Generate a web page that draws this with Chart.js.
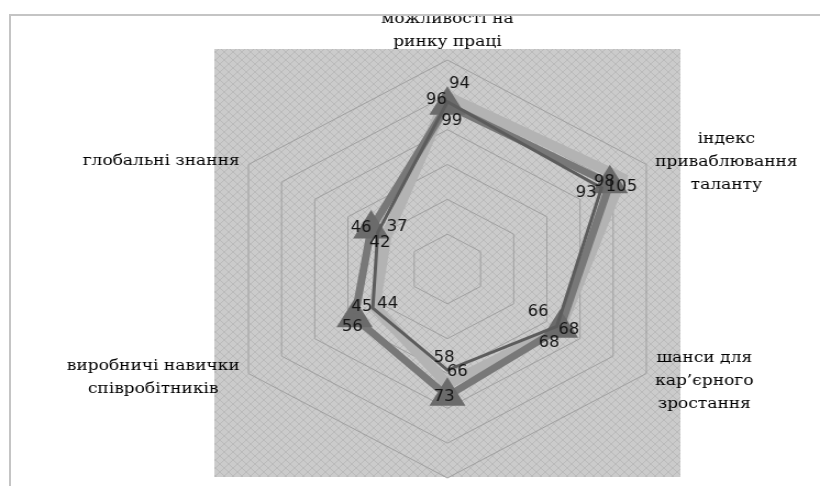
<!DOCTYPE html>
<html>
<head>
<meta charset="utf-8">
<script src="https://cdn.jsdelivr.net/npm/chart.js@4.4.1/dist/chart.umd.min.js"></script>
<style>
    html, body { margin: 0; padding: 0; background: #fff; width: 820px; height: 486px; overflow: hidden; }
    #frame { position: absolute; left: 9px; top: 14px; width: 811px; height: 472px;
             border-top: 2px solid #c4c4c4; border-left: 2px solid #c4c4c4; overflow: hidden; }
    #wrap { position: absolute; left: -11px; top: -16px; width: 746px; height: 486px;
            transform: scaleX(1.0992); transform-origin: 0 0; }
</style>
</head>
<body>
<div id="frame"><div id="wrap"><canvas id="radarChart"></canvas></div></div>
<script>
// categories (clockwise from the top); the bottom axis has no visible title
const categories = [
    ['можливості на', 'ринку праці'],
    ['індекс', 'приваблювання', 'таланту'],
    ['шанси для', 'кар’єрного', 'зростання'],
    [''],
    ['виробничі навички', 'співробітників'],
    ['глобальні знання']
];

// series values
const seriesA = [94, 98, 68, 73, 56, 46];
const seriesB = [96, 93, 66, 58, 45, 42];
const seriesC = [99, 105, 68, 66, 44, 37];

// axis range
const axisMax = 120;
const axisStep = 20;

// where each value label sits relative to its point (px)
const labelShiftA = [[11, -21], [-5, -2], [-10, 15], [-3, 1], [-2, 9], [-9, -1]];
const labelShiftB = [[-10, -2], [-14, 5], [-17, -14], [-3, -12], [-10, -1], [2, 11]];
const labelShiftC = [[4, 25], [0, 10], [8, 2], [9, -12], [12, -3], [10, -10]];

// cross-hatched plot area background
function hatchPattern(ctx) {
    const p = document.createElement('canvas');
    p.width = 8; p.height = 8;
    const c = p.getContext('2d');
    c.fillStyle = '#cbcbcb';
    c.fillRect(0, 0, 8, 8);
    c.strokeStyle = '#bababa';
    c.lineWidth = 1;
    c.beginPath();
    c.moveTo(0, 0); c.lineTo(8, 8);
    c.moveTo(8, 0); c.lineTo(0, 8);
    c.stroke();
    return ctx.createPattern(p, 'repeat');
}

const plotBackground = {
    id: 'plotBackground',
    beforeDraw(chart) {
        const r = chart.scales.r;
        const ctx = chart.ctx;
        ctx.save();
        ctx.fillStyle = hatchPattern(ctx);
        ctx.fillRect(r.xCenter - r.drawingArea - 3, r.yCenter - r.drawingArea - 11,
                     2 * r.drawingArea + 6, 2 * r.drawingArea + 10);
        ctx.restore();
    }
};

// axis titles, centred blocks like the original
const axisTitles = {
    id: 'axisTitles',
    afterDraw(chart) {
        const r = chart.scales.r;
        const ctx = chart.ctx;
        const lh = 23;
        ctx.save();
        ctx.font = '15.5px "DejaVu Serif"';
        ctx.fillStyle = '#000';
        ctx.textBaseline = 'middle';
        ctx.textAlign = 'center';
        categories.forEach((lines, i) => {
            const v = r.getPointPosition(i, r.drawingArea);
            const w = Math.max(...lines.map(t => ctx.measureText(t).width));
            let cx, cy;
            if (Math.abs(v.x - r.xCenter) < 2) {
                cx = v.x;
                cy = v.y < r.yCenter ? v.y - 18 - (lines.length - 1) * lh / 2 : v.y + 18;
            } else if (v.x > r.xCenter) {
                cx = v.x + 8 + w / 2;
                cy = v.y + (v.y > r.yCenter ? 7 : -3);
            } else {
                cx = v.x - 8 - w / 2;
                cy = v.y + (v.y > r.yCenter ? 4 : -4);
            }
            lines.forEach((t, k) => {
                ctx.fillText(t, cx, cy + (k - (lines.length - 1) / 2) * lh);
            });
        });
        ctx.restore();
    }
};

// value labels
const valueLabels = {
    id: 'valueLabels',
    afterDatasetsDraw(chart) {
        const ctx = chart.ctx;
        const shifts = [labelShiftA, labelShiftB, labelShiftC];
        ctx.save();
        ctx.font = '15px "DejaVu Sans"';
        ctx.fillStyle = '#151515';
        ctx.textAlign = 'center';
        ctx.textBaseline = 'middle';
        chart.data.datasets.forEach((ds, d) => {
            const meta = chart.getDatasetMeta(d);
            meta.data.forEach((pt, i) => {
                const s = shifts[d][i];
                ctx.fillText(ds.data[i], pt.x + s[0], pt.y + s[1]);
            });
        });
        ctx.restore();
    }
};

const ctx = document.getElementById('radarChart').getContext('2d');
new Chart(ctx, {
    type: 'radar',
    data: {
        labels: categories,
        datasets: [
            {
                label: 'A',
                data: seriesA,
                borderColor: '#787878',
                borderWidth: 7,
                backgroundColor: 'transparent',
                fill: false,
                pointStyle: 'triangle',
                pointRadius: 12,
                pointBackgroundColor: '#6b6b6b',
                pointBorderColor: '#6b6b6b',
                order: 2
            },
            {
                label: 'B',
                data: seriesB,
                borderColor: '#5c5c5c',
                borderWidth: 3,
                backgroundColor: 'transparent',
                fill: false,
                pointRadius: 0,
                order: 1
            },
            {
                label: 'C',
                data: seriesC,
                borderColor: '#b3b3b3',
                borderWidth: 10,
                backgroundColor: 'transparent',
                fill: false,
                pointRadius: 0,
                order: 3
            }
        ]
    },
    options: {
        responsive: true,
        maintainAspectRatio: false,
        animation: false,
        layout: { padding: { top: 60, bottom: 8, left: 100, right: 32 } },
        elements: { line: { tension: 0, borderJoinStyle: 'miter' } },
        plugins: {
            legend: { display: false },
            tooltip: { enabled: false }
        },
        scales: {
            r: {
                min: 0,
                max: axisMax,
                ticks: { stepSize: axisStep, display: false },
                grid: { color: '#a0a0a0', lineWidth: 1 },
                angleLines: { display: false },
                pointLabels: { display: false }
            }
        }
    },
    plugins: [plotBackground, axisTitles, valueLabels]
});
</script>
</body>
</html>
